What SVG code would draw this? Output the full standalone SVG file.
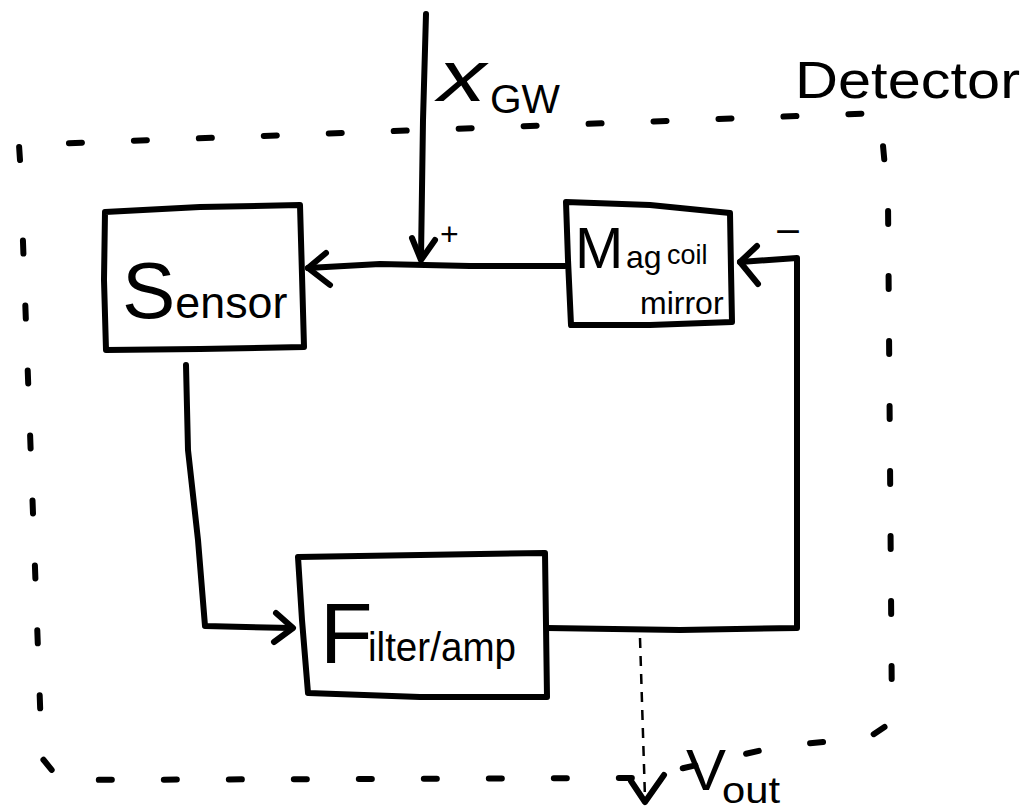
<svg xmlns="http://www.w3.org/2000/svg" width="1029" height="811" viewBox="0 0 1029 811">
<style>
.box{fill:none;stroke:#000;stroke-width:6;stroke-linejoin:round;stroke-linecap:round}
.wire{fill:none;stroke:#000;stroke-width:6;stroke-linejoin:round;stroke-linecap:round}
.dash{fill:none;stroke:#000;stroke-width:6;stroke-linecap:round;stroke-dasharray:13 52}
.thin{fill:none;stroke:#000;stroke-width:2.5;stroke-dasharray:10 8}
.head{fill:none;stroke:#000;stroke-width:6;stroke-linejoin:round;stroke-linecap:round}
text{font-family:"Liberation Sans","DejaVu Sans",sans-serif;fill:#000}
</style>
<rect width="1029" height="811" fill="#fff"/>
<g id="detector">
<path class="dash" d="M20 160 L19 145 L880 113 L888 200 L892 722 L868 738 L780 746 L640 778 L60 780 L42 758 L22 215"/>
<text x="795" y="98" font-size="52" textLength="225" lengthAdjust="spacingAndGlyphs">Detector</text>
</g>
<g id="sensor">
<path class="box" d="M105 212 L200 207 L300 205 L302 275 L304 347 L200 349 L106 350 L104 280 Z"/>
<text x="122" y="318"><tspan font-size="80">S</tspan><tspan font-size="44" textLength="112" lengthAdjust="spacingAndGlyphs">ensor</tspan></text>
</g>
<g id="magcoil">
<path class="box" d="M566 202 L650 205 L730 213 L731 270 L732 322 L650 325 L571 325 L568 260 Z"/>
<text x="575" y="268" font-size="58">M</text>
<text x="626" y="268" font-size="32">ag</text>
<text x="667" y="264" font-size="27">coil</text>
<text x="640" y="314" font-size="32">mirror</text>
</g>
<g id="filter">
<path class="box" d="M298 557 L420 555 L545 553 L546 625 L547 697 L420 697 L308 693 L302 620 Z"/>
<text x="320" y="663" font-size="86">F</text>
<text x="368" y="661" font-size="40" textLength="148" lengthAdjust="spacingAndGlyphs">ilter/amp</text>
</g>
<g id="connectors">
<path class="wire" d="M426 14 L423 120 L421 258"/>
<path class="head" d="M412 238 L421 260 L435 240"/>
<path class="wire" d="M565 266 L470 266 L380 264 L308 268"/>
<path class="head" d="M326 253 L308 268 L330 285"/>
<path class="wire" d="M186 365 L188 450 L198 540 L205 626 L292 628"/>
<path class="head" d="M276 613 L293 628 L274 642"/>
<path class="wire" d="M547 628 L680 630 L797 628 L797 420 L797 258 L740 262"/>
<path class="head" d="M757 246 L740 262 L758 284"/>
<path class="thin" d="M640 638 L645 798"/>
<path class="head" d="M631 781 L645 802 L664 775"/>
</g>
<g id="labels">
<text x="438" y="101" font-size="72" font-style="italic" textLength="48" lengthAdjust="spacingAndGlyphs">x</text>
<text x="490" y="113" font-size="40" textLength="70" lengthAdjust="spacingAndGlyphs">GW</text>
<text x="440" y="245" font-size="32">+</text>
<text x="775" y="245" font-size="40" textLength="26" lengthAdjust="spacingAndGlyphs">−</text>
<text x="686" y="790" font-size="58" textLength="40" lengthAdjust="spacingAndGlyphs">V</text>
<text x="722" y="803" font-size="36" textLength="58" lengthAdjust="spacingAndGlyphs">out</text>
</g>
</svg>
